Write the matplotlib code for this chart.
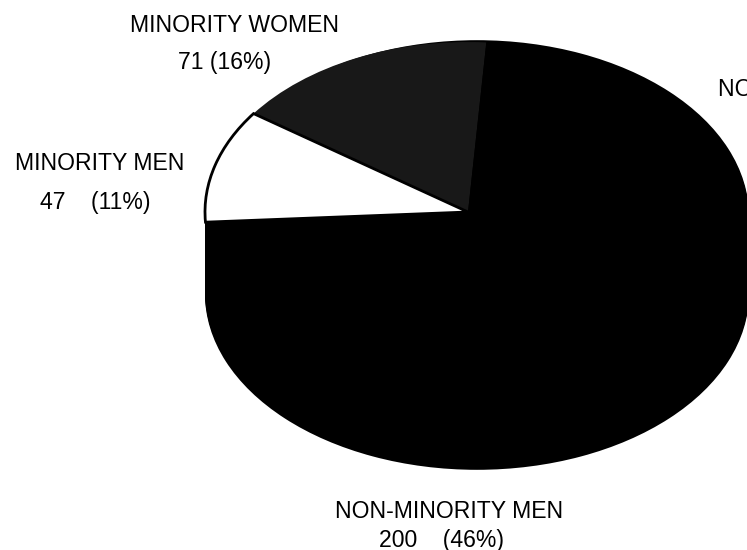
import numpy as np
import matplotlib
matplotlib.use("Agg")
import matplotlib.pyplot as plt

plt.rcParams['font.family'] = ['Liberation Sans', 'DejaVu Sans']

categories = ["MINORITY WOMEN", "MINORITY MEN", "NON-MINORITY MEN", "NON-MINORITY WOMEN"]
values = [71, 47, 200, 118]
value_labels = ["71 (16%)", "47    (11%)", "200    (46%)"]
colors = ["#181818", "#ffffff", "#000000", "#000000"]

W, H = 747, 550
fig = plt.figure(figsize=(W / 100, H / 100), dpi=100, facecolor="white")
ax = fig.add_axes([0, 0, 1, 1])

k = 263 / 170  # squash of the tilted pie
def py(y):
    return (H - y) * k

# body of the pie: a stack of black discs
for top in np.arange(216, 295, 2):
    ax.pie([1], colors=["black"], center=(477, py(top)), radius=272,
           startangle=0, frame=False, wedgeprops=dict(linewidth=0))

# top face
wedges, _ = ax.pie(values, colors=colors, center=(468, py(212)), radius=263,
                   startangle=86, counterclock=True, frame=False,
                   wedgeprops=dict(linewidth=0))
wedges[1].set_edgecolor("black")
wedges[1].set_linewidth(2.0)

ax.set_aspect("auto")
ax.set_xlim(0, W)
ax.set_ylim(0, H * k)
ax.axis("off")

fs = 16.6
def label(x, y, s, ha="center"):
    ax.text(x, py(y), s, ha=ha, va="center", fontsize=fs, color="black")

label(234, 26, categories[0])
label(225, 62, value_labels[0])
label(99.5, 164, categories[1])
label(95, 203, value_labels[1])
label(449, 512, categories[2])
label(441.5, 540, value_labels[2])
label(718, 89, categories[3], ha="left")

fig.savefig("out.png", dpi=100)
